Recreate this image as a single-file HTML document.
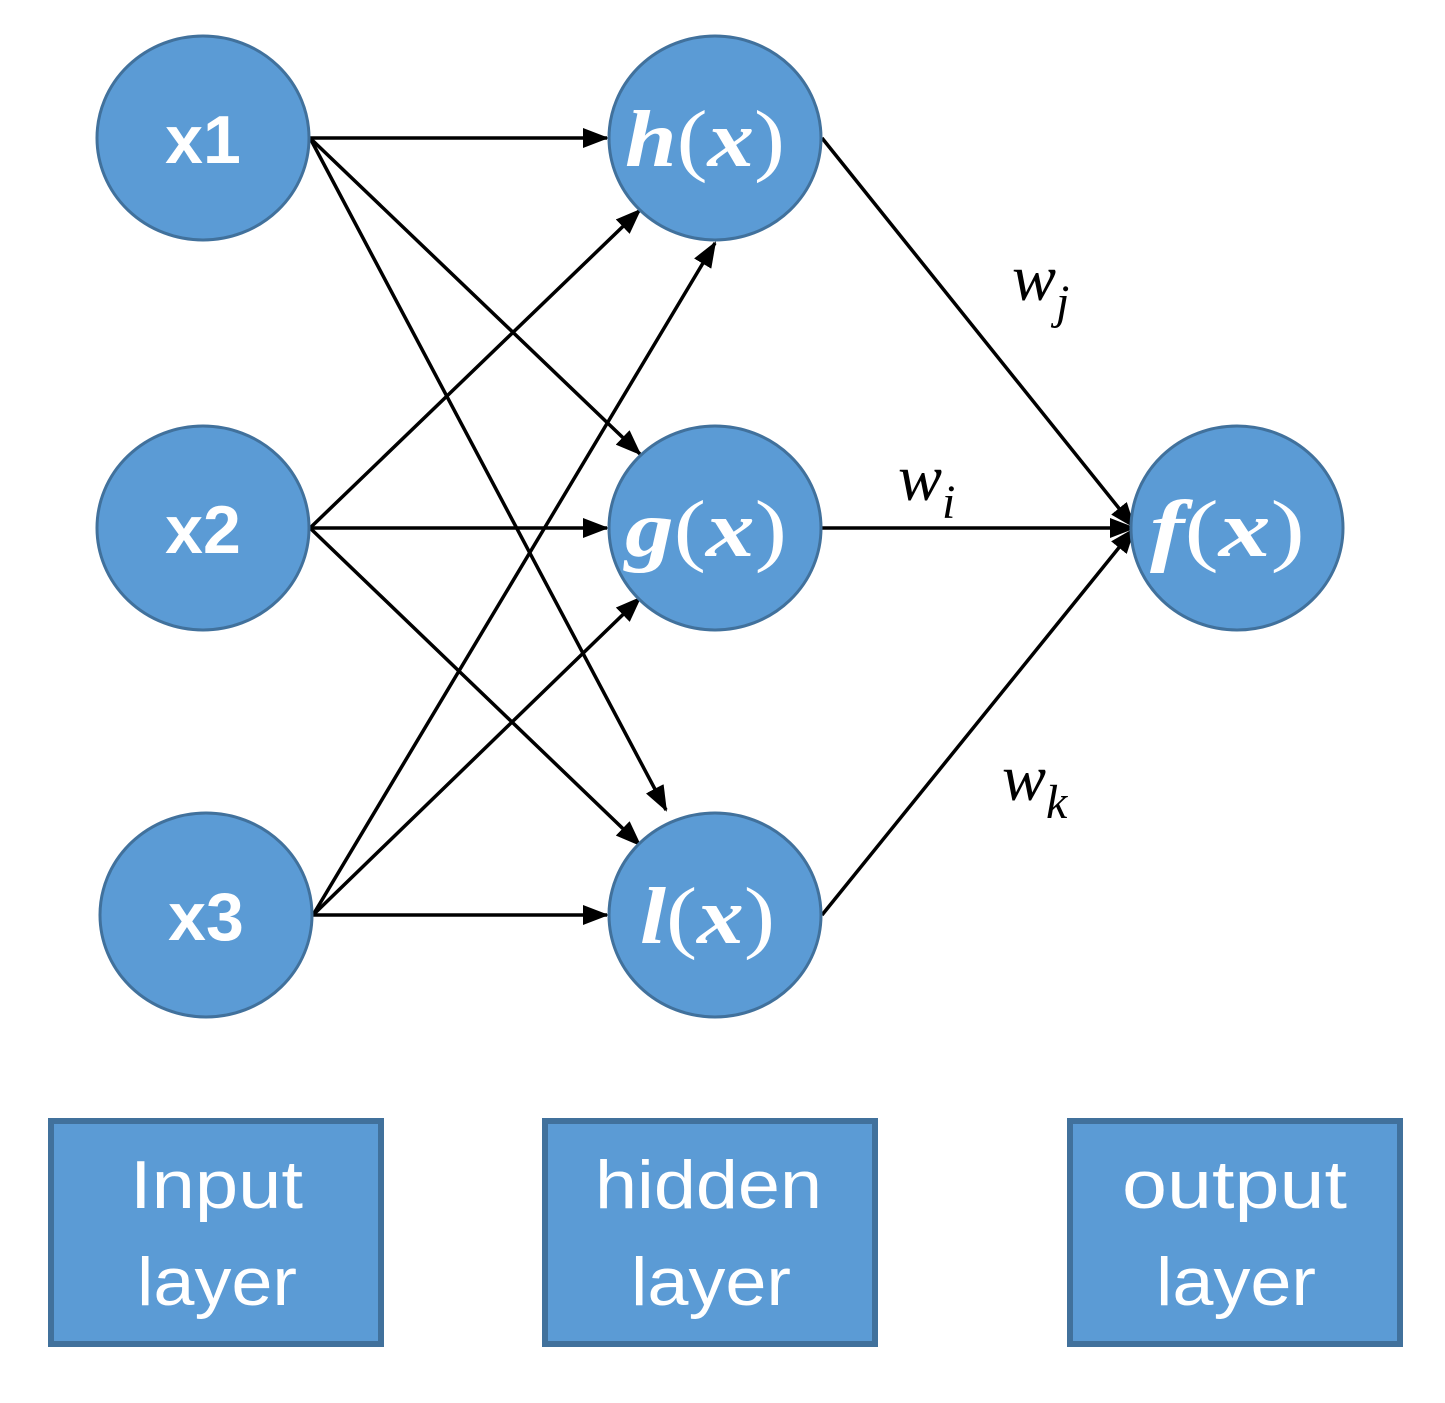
<!DOCTYPE html>
<html><head><style>body{margin:0;background:#fff}</style></head><body>
<svg width="1445" height="1398" xmlns="http://www.w3.org/2000/svg">
<defs>
<marker id="b" markerWidth="26" markerHeight="20" refX="24" refY="10" orient="auto" markerUnits="userSpaceOnUse"><path d="M0,0L26,10L0,20z" fill="#000"/></marker></defs>
<g stroke="#000" stroke-width="3.5" marker-end="url(#b)">
<line x1="310" y1="138" x2="607" y2="138"/>
<line x1="310" y1="138" x2="640" y2="454"/>
<line x1="310" y1="138" x2="666" y2="810"/>
<line x1="310" y1="528" x2="640" y2="210"/>
<line x1="310" y1="528" x2="607" y2="528"/>
<line x1="310" y1="528" x2="640" y2="845"/>
<line x1="313" y1="915" x2="715" y2="243"/>
<line x1="313" y1="915" x2="640" y2="598"/>
<line x1="313" y1="915" x2="607" y2="915"/>
<line x1="822" y1="138" x2="1134" y2="527"/>
<line x1="822" y1="528" x2="1134" y2="528"/>
<line x1="822" y1="915" x2="1134" y2="529"/>
</g>
<g fill="#5B9BD5" stroke="#41719C" stroke-width="3">
<ellipse cx="203" cy="138" rx="106" ry="102"/>
<ellipse cx="203" cy="528" rx="106" ry="102"/>
<ellipse cx="206" cy="915" rx="106" ry="102"/>
<ellipse cx="715" cy="138" rx="106" ry="102"/>
<ellipse cx="715" cy="528" rx="106" ry="102"/>
<ellipse cx="715" cy="915" rx="106" ry="102"/>
<ellipse cx="1237" cy="528" rx="106" ry="102"/>
</g>
<g fill="#fff" font-family="Liberation Sans, sans-serif" font-weight="bold" font-size="68" text-anchor="middle">
<text x="203" y="163">x1</text><text x="203" y="553">x2</text><text x="206" y="940">x3</text>
</g>
<g fill="#fff" font-family="Liberation Serif, serif" font-size="80" lengthAdjust="spacingAndGlyphs">
<text x="625" y="166" textLength="160" lengthAdjust="spacingAndGlyphs"><tspan font-style="italic" font-weight="bold">h</tspan>(<tspan font-style="italic" font-weight="bold">x</tspan>)</text>
<text x="625" y="556" textLength="162" lengthAdjust="spacingAndGlyphs"><tspan font-style="italic" font-weight="bold">g</tspan>(<tspan font-style="italic" font-weight="bold">x</tspan>)</text>
<text x="640" y="943" textLength="135" lengthAdjust="spacingAndGlyphs"><tspan font-style="italic" font-weight="bold">l</tspan>(<tspan font-style="italic" font-weight="bold">x</tspan>)</text>
<text x="1150" y="556" textLength="155" lengthAdjust="spacingAndGlyphs"><tspan font-style="italic" font-weight="bold">f</tspan>(<tspan font-style="italic" font-weight="bold">x</tspan>)</text>
</g>
<g font-family="Liberation Serif, serif" font-style="italic" font-size="66" fill="#000">
<text x="1012" y="300">w<tspan font-size="48" dy="18">j</tspan></text>
<text x="898" y="500">w<tspan font-size="48" dy="18">i</tspan></text>
<text x="1002" y="800">w<tspan font-size="48" dy="18">k</tspan></text>
</g>
<g fill="#5B9BD5" stroke="#41719C" stroke-width="6">
<rect x="51" y="1121" width="330" height="223"/>
<rect x="545" y="1121" width="330" height="223"/>
<rect x="1070" y="1121" width="330" height="223"/>
</g>
<g fill="#fff" font-family="Liberation Sans, sans-serif" font-size="68">
<text x="130" y="1208" textLength="173" lengthAdjust="spacingAndGlyphs">Input</text>
<text x="137" y="1305" textLength="160" lengthAdjust="spacingAndGlyphs">layer</text>
<text x="595" y="1208" textLength="227" lengthAdjust="spacingAndGlyphs">hidden</text>
<text x="631" y="1305" textLength="160" lengthAdjust="spacingAndGlyphs">layer</text>
<text x="1122" y="1208" textLength="225" lengthAdjust="spacingAndGlyphs">output</text>
<text x="1156" y="1305" textLength="160" lengthAdjust="spacingAndGlyphs">layer</text>
</g>
</svg>
</body></html>
